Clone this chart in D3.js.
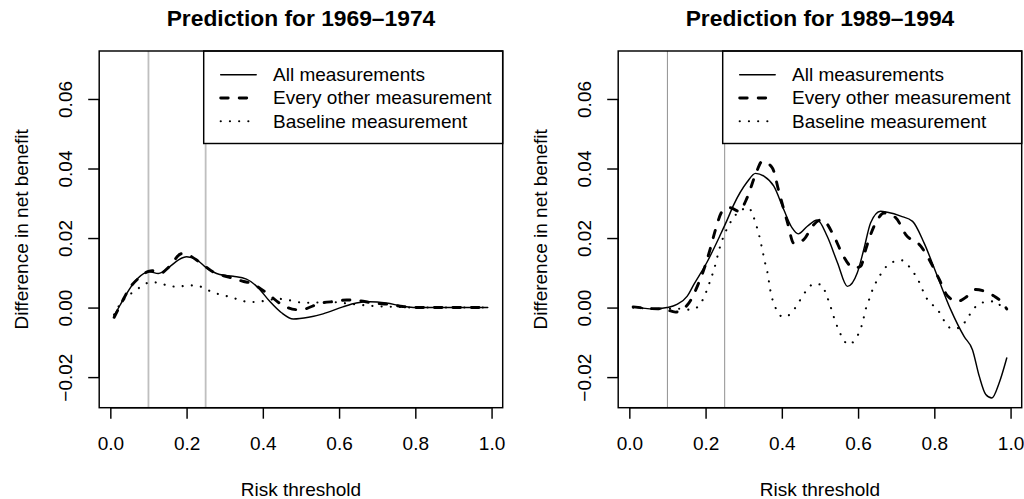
<!DOCTYPE html>
<html>
<head>
<meta charset="utf-8">
<script src="https://cdn.jsdelivr.net/npm/d3@7"></script>
<style>
  html, body { margin: 0; padding: 0; background: #fff; }
  svg { display: block; }
  text { font-family: "Liberation Sans", Arial, Helvetica, sans-serif; fill: #000; }
</style>
</head>
<body>
<svg id="chart" width="1024" height="499"></svg>
<script>
// ---------------- data ----------------
const panelTitles = ["Prediction for 1969\u20131974", "Prediction for 1989\u20131994"];
const seriesNames = ["All measurements", "Every other measurement", "Baseline measurement"];
const xTicks = [0, 0.2, 0.4, 0.6, 0.8, 1.0];
const yTicks = [-0.02, 0, 0.02, 0.04, 0.06];
const refLines = [0.1, 0.25];
const xLabel = "Risk threshold";
const yLabel = "Difference in net benefit";

// [risk threshold, difference in net benefit]
const p1All = [[0.01,-0.0023],[0.025,0.0006],[0.04,0.0035],[0.07,0.0082],[0.102,0.0103],[0.126,0.0098],[0.156,0.0118],[0.18,0.0138],[0.2,0.0146],[0.226,0.0138],[0.252,0.0114],[0.287,0.0095],[0.322,0.009],[0.357,0.0082],[0.387,0.0058],[0.418,0.0018],[0.449,-0.0015],[0.48,-0.0033],[0.52,-0.0028],[0.558,-0.0018],[0.61,0.0002],[0.645,0.0013],[0.68,0.0017],[0.724,0.0013],[0.767,0.0004],[0.8,0],[0.85,0],[0.9,0],[0.95,0],[0.99,0]];
const p1Every = [[0.01,-0.0028],[0.03,0.0015],[0.05,0.0055],[0.075,0.0085],[0.1,0.0104],[0.11,0.0106],[0.13,0.0098],[0.155,0.0118],[0.187,0.0155],[0.2,0.0153],[0.235,0.013],[0.27,0.0102],[0.313,0.0087],[0.35,0.0075],[0.366,0.0071],[0.41,0.0042],[0.449,0.0009],[0.488,-0.0006],[0.51,-0.0004],[0.549,0.0012],[0.593,0.0018],[0.62,0.0022],[0.645,0.0021],[0.69,0.0013],[0.732,0.0009],[0.767,0.0003],[0.8,0],[0.85,0],[0.9,0],[0.95,0],[0.99,0]];
const p1Base = [[0.01,-0.002],[0.025,0.0009],[0.04,0.0028],[0.06,0.0045],[0.082,0.0061],[0.104,0.0073],[0.13,0.0071],[0.152,0.0062],[0.178,0.006],[0.204,0.0064],[0.228,0.0063],[0.252,0.0052],[0.274,0.0042],[0.298,0.0035],[0.322,0.0028],[0.347,0.0019],[0.37,0.0016],[0.396,0.0018],[0.422,0.0023],[0.444,0.0025],[0.47,0.0021],[0.497,0.0015],[0.523,0.0014],[0.575,0.0016],[0.645,0.0009],[0.697,0.0004],[0.75,0.0002],[0.8,0],[0.9,0],[0.99,0]];

const p2All = [[0.01,0.0002],[0.064,-0.0004],[0.099,0],[0.125,0.0009],[0.152,0.0033],[0.169,0.0066],[0.204,0.0131],[0.239,0.021],[0.257,0.0253],[0.274,0.0296],[0.309,0.0361],[0.331,0.0386],[0.353,0.0378],[0.379,0.0349],[0.405,0.0282],[0.427,0.0229],[0.443,0.0212],[0.467,0.0234],[0.493,0.0252],[0.519,0.0205],[0.546,0.0129],[0.572,0.0061],[0.598,0.01],[0.615,0.0167],[0.633,0.0244],[0.659,0.0277],[0.677,0.0274],[0.712,0.0263],[0.743,0.0248],[0.773,0.0186],[0.808,0.009],[0.843,-0.0006],[0.878,-0.0083],[0.9,-0.0121],[0.918,-0.0198],[0.935,-0.025],[0.951,-0.026],[0.97,-0.0217],[0.99,-0.0145]];
const p2Every = [[0.01,0.0002],[0.06,-0.0003],[0.09,-0.0004],[0.121,-0.0013],[0.156,0.0013],[0.182,0.0071],[0.2,0.0124],[0.213,0.0172],[0.226,0.0224],[0.244,0.0277],[0.265,0.0287],[0.287,0.0277],[0.309,0.0316],[0.331,0.0383],[0.349,0.0421],[0.375,0.0402],[0.392,0.0335],[0.414,0.0248],[0.432,0.0184],[0.458,0.0196],[0.48,0.0234],[0.505,0.0253],[0.537,0.0205],[0.559,0.0153],[0.589,0.0114],[0.607,0.0119],[0.62,0.0167],[0.633,0.021],[0.651,0.0253],[0.668,0.0272],[0.699,0.0258],[0.725,0.021],[0.765,0.0176],[0.791,0.0129],[0.813,0.0081],[0.835,0.0033],[0.861,0.0018],[0.887,0.0033],[0.909,0.0052],[0.931,0.0047],[0.957,0.0033],[0.979,0.0013],[0.99,-0.0004]];
const p2Base = [[0.01,0],[0.07,-0.0003],[0.11,-0.0003],[0.138,-0.0004],[0.16,-0.0006],[0.182,0.0004],[0.195,0.0028],[0.204,0.0052],[0.213,0.008],[0.221,0.0106],[0.228,0.0133],[0.234,0.016],[0.241,0.0186],[0.25,0.0212],[0.261,0.0237],[0.274,0.026],[0.292,0.0279],[0.313,0.0287],[0.325,0.0263],[0.333,0.0237],[0.34,0.021],[0.346,0.0181],[0.351,0.0155],[0.356,0.0129],[0.362,0.0103],[0.366,0.0076],[0.37,0.0049],[0.376,0.0021],[0.386,-0.0006],[0.403,-0.0027],[0.423,-0.0018],[0.438,0.0004],[0.451,0.0027],[0.465,0.005],[0.484,0.0068],[0.504,0.0066],[0.515,0.0042],[0.524,0.0015],[0.532,-0.0011],[0.539,-0.0036],[0.548,-0.0061],[0.559,-0.0087],[0.574,-0.0106],[0.594,-0.009],[0.605,-0.0065],[0.613,-0.0039],[0.618,-0.0012],[0.626,0.0013],[0.634,0.004],[0.644,0.0066],[0.656,0.009],[0.67,0.0113],[0.689,0.013],[0.714,0.0136],[0.733,0.0119],[0.748,0.0097],[0.76,0.0074],[0.77,0.0049],[0.782,0.0023],[0.799,0.0004],[0.816,-0.0018],[0.828,-0.0042],[0.847,-0.0061],[0.869,-0.0057],[0.884,-0.0035],[0.898,-0.0012],[0.915,0.0009],[0.94,0.0017],[0.962,0.0018],[0.982,-0.0004],[0.99,-0.0004]];

const panelSeries = [[p1All, p1Every, p1Base], [p2All, p2Every, p2Base]];

// ---------------- layout / style ----------------
const svg = d3.select("#chart");
const boxW = 403.5, boxTop = 51, boxBottom = 407.7;
const panelLefts = [99.2, 618.2];
const xDomain = [-0.0292, 1.0292];
const yDomain = [-0.0288, 0.0738];
const fontSize = 19;
const lineStyles = [
  { width: 1.45, dash: null, cap: "round" },
  { width: 2.9, dash: "7.5 11", cap: "round" },
  { width: 2.1, dash: "0.1 9.1", cap: "round" }
];
const refStyles = [
  { color: "#bfbfbf", width: 1.8 },
  { color: "#9a9a9a", width: 1.1 }
];

panelTitles.forEach((title, pi) => {
  const left = panelLefts[pi];
  const x = d3.scaleLinear().domain(xDomain).range([left, left + boxW]);
  const y = d3.scaleLinear().domain(yDomain).range([boxBottom, boxTop]);
  const g = svg.append("g");

  // reference lines
  g.selectAll("line.ref").data(refLines).enter().append("line")
    .attr("x1", d => x(d)).attr("x2", d => x(d))
    .attr("y1", boxTop).attr("y2", boxBottom)
    .attr("stroke", refStyles[pi].color)
    .attr("stroke-width", refStyles[pi].width);

  // curves
  const line = d3.line().x(d => x(d[0])).y(d => y(d[1])).curve(d3.curveMonotoneX);
  panelSeries[pi].forEach((s, si) => {
    const st = lineStyles[si];
    g.append("path").datum(s)
      .attr("d", line)
      .attr("fill", "none")
      .attr("stroke", "#000")
      .attr("stroke-width", st.width)
      .attr("stroke-linecap", st.cap)
      .attr("stroke-linejoin", "round")
      .attr("stroke-dasharray", st.dash);
  });

  // legend (topright, white background)
  const lgX0 = left + 104.5, lgX1 = left + boxW;
  g.append("rect")
    .attr("x", lgX0).attr("y", boxTop)
    .attr("width", lgX1 - lgX0).attr("height", 143.5 - boxTop)
    .attr("fill", "#fff").attr("stroke", "#000").attr("stroke-width", 1.45);
  const baselines = [81, 104.3, 127.6];
  seriesNames.forEach((name, si) => {
    const st = lineStyles[si];
    g.append("line")
      .attr("x1", left + 121.5).attr("x2", left + 157)
      .attr("y1", baselines[si] - 6.3).attr("y2", baselines[si] - 6.3)
      .attr("stroke", "#000")
      .attr("stroke-width", st.width)
      .attr("stroke-linecap", st.cap)
      .attr("stroke-dasharray", st.dash);
    g.append("text")
      .attr("x", left + 173.8).attr("y", baselines[si])
      .attr("font-size", fontSize)
      .text(name);
  });

  // box
  g.append("rect")
    .attr("x", left).attr("y", boxTop)
    .attr("width", boxW).attr("height", boxBottom - boxTop)
    .attr("fill", "none").attr("stroke", "#000").attr("stroke-width", 1.45);

  // x axis
  const xa = g.append("g").attr("transform", `translate(0,${boxBottom})`)
    .call(d3.axisBottom(x).tickValues(xTicks).tickSize(11).tickSizeOuter(0).tickFormat(d3.format(".1f")));
  xa.select(".domain").attr("d", `M${x(xTicks[0])},0H${x(xTicks[xTicks.length - 1])}`)
    .attr("stroke-width", 1.45);
  xa.selectAll(".tick line").attr("stroke-width", 1.45);
  xa.selectAll(".tick text")
    .attr("y", 450 - boxBottom).attr("dy", 0)
    .attr("font-size", fontSize)
    .attr("font-family", "'Liberation Sans', Arial, Helvetica, sans-serif");

  // y axis
  const ya = g.append("g").attr("transform", `translate(${left},0)`)
    .call(d3.axisLeft(y).tickValues(yTicks).tickSize(11).tickSizeOuter(0).tickFormat(d3.format(".2f")));
  ya.select(".domain").attr("d", `M0,${y(yTicks[0])}V${y(yTicks[yTicks.length - 1])}`)
    .attr("stroke-width", 1.45);
  ya.selectAll(".tick line").attr("stroke-width", 1.45);
  ya.selectAll(".tick text")
    .attr("x", 0).attr("dy", 0)
    .attr("text-anchor", "middle")
    .attr("transform", "translate(-27.5,0) rotate(-90)")
    .attr("font-size", fontSize)
    .attr("font-family", "'Liberation Sans', Arial, Helvetica, sans-serif");

  // title
  g.append("text")
    .attr("x", left + boxW / 2).attr("y", 26)
    .attr("text-anchor", "middle")
    .attr("font-weight", "bold")
    .attr("font-size", 22.8)
    .text(title);

  // axis labels
  g.append("text")
    .attr("x", left + boxW / 2).attr("y", 495.5)
    .attr("text-anchor", "middle")
    .attr("font-size", fontSize)
    .text(xLabel);
  g.append("text")
    .attr("transform", `translate(${left - 70.9},${(boxTop + boxBottom) / 2}) rotate(-90)`)
    .attr("text-anchor", "middle")
    .attr("font-size", fontSize)
    .text(yLabel);
});
</script>
</body>
</html>
